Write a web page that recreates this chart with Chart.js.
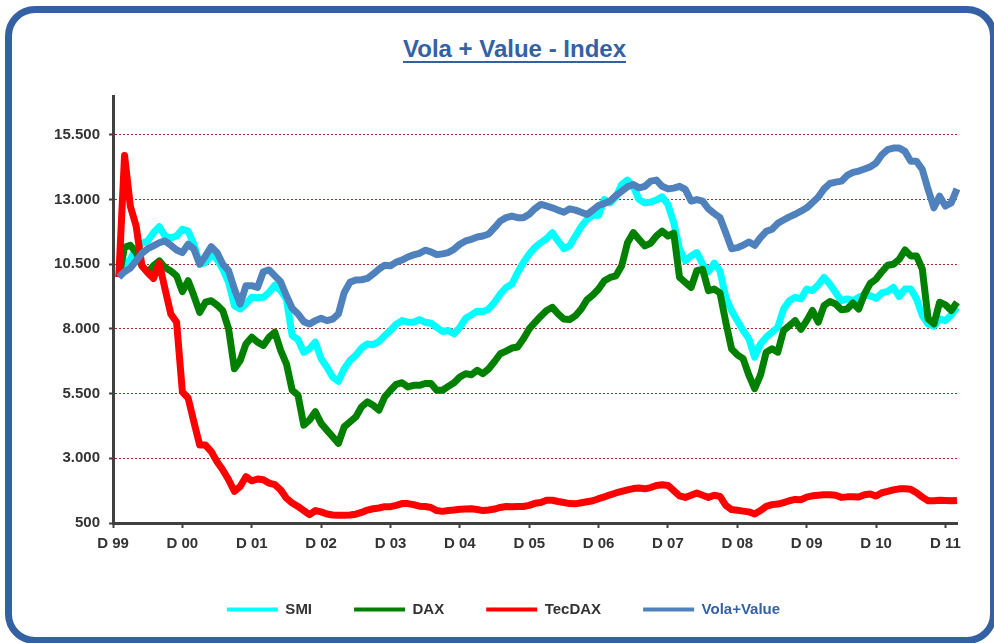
<!DOCTYPE html>
<html>
<head>
<meta charset="utf-8">
<script src="https://cdn.jsdelivr.net/npm/chart.js@4.4.1/dist/chart.umd.min.js"></script>
<style>
  html, body { margin: 0; padding: 0; background: #fff; }
  body { width: 994px; height: 643px; position: relative; overflow: hidden; }
  .frame {
    position: absolute; left: 5px; top: 6px; width: 992px; height: 638px;
    box-sizing: border-box; border: 7px solid #3461a4; border-radius: 30px;
  }
  .title {
    position: absolute; left: 514.5px; top: 37px; transform: translateX(-50%);
    white-space: nowrap; font: bold 24px "Liberation Sans", Arial, sans-serif;
    line-height: 24px; color: #3461a4;
    text-decoration: underline; text-decoration-thickness: 2px; text-underline-offset: 4px;
  }
  canvas { position: absolute; left: 0; top: 0; }
</style>
</head>
<body>
<div class="frame"></div>
<div class="title">Vola + Value - Index</div>
<canvas id="chart" width="994" height="643"></canvas>
<script>
// tick labels
const yearLabels = ['D 99', 'D 00', 'D 01', 'D 02', 'D 03', 'D 04', 'D 05', 'D 06', 'D 07', 'D 08', 'D 09', 'D 10', 'D 11'];
const yTicks = [500, 3000, 5500, 8000, 10500, 13000, 15500];

// monthly values, Jan 00 .. Feb 12 (month 0 = Dec 99 has no value)
const smi = [
  10000, 10440, 10690, 11100, 11310, 11400, 11720, 11950, 11590, 11520, 11590, 11850, 11780, 11270, 10500, 10560, 10880, 10690, 10310, 9800, 8900, 8770, 8960, 9220, 9200,
  9220, 9410, 9690, 9480, 9150, 7740, 7590, 7100, 7230, 7490, 6850, 6530, 6140, 5980, 6460, 6780, 6980, 7260, 7420, 7390, 7510, 7740, 7940, 8180,
  8320, 8260, 8260, 8360, 8260, 8220, 8060, 7900, 7940, 7810, 8060, 8410, 8540, 8680, 8670, 8770, 9030, 9350, 9600, 9730, 10180, 10570, 10890, 11150,
  11330, 11490, 11720, 11400, 11100, 11210, 11590, 11950, 12230, 12390, 12390, 13000, 12870, 13100, 13580, 13750, 13510, 13000, 12870, 12900, 12980, 13100, 12810, 12100,
  11100, 10630, 10820, 10950, 10500, 10210, 10540, 10240, 9220, 8710, 8320, 7940, 7620, 6910, 7420, 7680, 7870, 8060, 8770, 9090, 9220, 9160, 9540, 9480, 9700,
  9990, 9730, 9410, 9090, 9160, 9090, 9220, 9310, 9280, 9180, 9390, 9450, 9600, 9250, 9540, 9540, 9160, 8520, 8190, 8100, 8390, 8320, 8540, 8830
];
const dax = [
  10000, 11150, 11230, 10950, 10440, 10180, 10440, 10630, 10370, 10240, 10050, 9440, 9860, 9280, 8640, 9030, 9090, 8920, 8700, 8000, 6460, 6780, 7420, 7680, 7490,
  7360, 7680, 7870, 7170, 6650, 5630, 5440, 4280, 4480, 4800, 4350, 4090, 3830, 3580, 4220, 4410, 4600, 4990, 5180, 5050, 4860, 5370, 5630, 5860,
  5920, 5760, 5820, 5820, 5890, 5890, 5630, 5630, 5780, 5920, 6140, 6270, 6230, 6400, 6270, 6460, 6740, 7040, 7140, 7260, 7300, 7620, 8000, 8250,
  8490, 8710, 8830, 8580, 8380, 8360, 8510, 8770, 9130, 9310, 9540, 9860, 9990, 10050, 10440, 11330, 11720, 11460, 11210, 11310, 11590, 11780, 11590, 11700,
  9990, 9800, 9600, 10250, 10300, 9480, 9540, 9390, 8260, 7230, 7000, 6850, 6210, 5690, 6210, 7100, 7230, 7100, 7940, 8130, 8320, 7980, 8320, 8710, 8260,
  8900, 9060, 8960, 8740, 8770, 9000, 8770, 9350, 9760, 9920, 10210, 10460, 10500, 10690, 11050, 10820, 10820, 10310, 8390, 8190, 9030, 8930, 8710, 9030
];
const tecdax = [
  10000, 14700, 12740, 11980, 10440, 10180, 9950, 10550, 9540, 8580, 8260, 5570, 5330, 4400, 3510, 3510, 3260, 2870, 2550, 2170, 1720, 1910, 2290, 2130, 2200,
  2170, 2040, 1980, 1780, 1460, 1270, 1140, 980, 820, 980, 930, 850, 810, 800, 800, 810, 840, 910, 1000, 1050, 1080, 1130, 1130, 1180,
  1250, 1250, 1210, 1150, 1140, 1100, 980, 950, 980, 1000, 1030, 1040, 1050, 1020, 980, 1000, 1040, 1100, 1140, 1130, 1140, 1140, 1180, 1260,
  1290, 1380, 1380, 1330, 1290, 1250, 1240, 1280, 1320, 1360, 1440, 1510, 1590, 1660, 1720, 1780, 1830, 1850, 1820, 1870, 1950, 1980, 1950, 1750,
  1550, 1490, 1570, 1660, 1570, 1490, 1570, 1530, 1180, 1020, 990, 960, 930, 850, 980, 1140, 1210, 1230, 1290, 1360, 1410, 1400, 1500, 1550, 1570,
  1590, 1590, 1570, 1490, 1510, 1510, 1500, 1590, 1620, 1540, 1670, 1720, 1780, 1820, 1820, 1800, 1670, 1500, 1360, 1360, 1380, 1370, 1360, 1370
];
const volaValue = [
  10000, 10210, 10350, 10630, 10920, 11100, 11210, 11330, 11400, 11230, 11050, 10950, 11270, 11080, 10500, 10820, 11180, 10950, 10500, 10250, 9540, 8960, 9670, 9670, 9600,
  10210, 10280, 10050, 9820, 9280, 8800, 8580, 8280, 8190, 8320, 8410, 8320, 8380, 8580, 9410, 9800, 9890, 9900, 9950, 10120, 10310, 10460, 10440, 10580,
  10660, 10780, 10860, 10920, 11040, 10980, 10870, 10900, 10950, 11080, 11270, 11400, 11460, 11550, 11590, 11670, 11910, 12170, 12300, 12360, 12300, 12300, 12430, 12650,
  12810, 12750, 12680, 12590, 12510, 12640, 12590, 12510, 12420, 12590, 12770, 12850, 12940, 13150, 13320, 13490, 13580, 13450, 13510, 13710, 13750, 13510, 13410, 13440,
  13510, 13390, 12940, 13000, 12940, 12640, 12460, 12300, 11720, 11100, 11140, 11230, 11360, 11230, 11530, 11770, 11850, 12080, 12210, 12330, 12430, 12550, 12680, 12880, 13100,
  13410, 13620, 13670, 13710, 13930, 14050, 14100, 14180, 14260, 14410, 14730, 14930, 14990, 14990, 14860, 14480, 14480, 14160, 13390, 12680, 13130, 12750, 12870, 13410
];

// one category per month, Dec 99 .. Feb 12
const months = Array.from({ length: smi.length + 1 }, (_, i) => (i % 12 === 0 ? yearLabels[i / 12] : ''));

const axisColor = '#404040';
const textColor = '#333333';
Chart.defaults.font.family = '"Liberation Sans", Arial, sans-serif';

const line = (label, data, color, order) => ({
  label,
  data: [null, ...data],
  borderColor: color,
  backgroundColor: color,
  borderWidth: 7,
  borderJoinStyle: 'round',
  pointRadius: 0,
  tension: 0,
  order
});

new Chart(document.getElementById('chart'), {
  type: 'line',
  data: {
    labels: months,
    datasets: [
      line('SMI', smi, '#00ffff', 4),
      line('DAX', dax, '#008000', 3),
      line('TecDAX', tecdax, '#ff0000', 2),
      line('Vola+Value', volaValue, '#4f81bd', 1)
    ]
  },
  options: {
    responsive: false,
    animation: false,
    devicePixelRatio: 1,
    layout: { padding: { top: 96, left: 50, right: 37, bottom: 16 } },
    plugins: {
      title: { display: false },
      tooltip: { enabled: false },
      legend: {
        position: 'bottom',
        labels: {
          boxWidth: 51,
          boxHeight: 4,
          padding: 42,
          color: textColor,
          font: { size: 15, weight: 'bold' },
          generateLabels: (chart) =>
            Chart.defaults.plugins.legend.labels.generateLabels(chart)
              .sort((a, b) => a.datasetIndex - b.datasetIndex)
              .map((l) => ({ ...l, lineWidth: 0, fontColor: l.datasetIndex === 3 ? '#3461a4' : textColor }))
        }
      }
    },
    scales: {
      x: {
        afterFit: (s) => { s.height = 37; },
        afterBuildTicks: (s) => { s.ticks = s.ticks.filter((t) => t.value % 12 === 0); },
        ticks: { autoSkip: false, maxRotation: 0, padding: 7, color: textColor, font: { size: 15, weight: 'bold' } },
        grid: { drawOnChartArea: false, drawTicks: true, tickLength: 5, tickColor: axisColor, tickWidth: 2 },
        border: { color: axisColor, width: 3 }
      },
      y: {
        min: 500,
        max: 17000,
        afterFit: (s) => { s.width = 63; },
        afterBuildTicks: (s) => { s.ticks = yTicks.map((v) => ({ value: v })); },
        ticks: {
          padding: 9,
          color: textColor,
          font: { size: 15, weight: 'bold' },
          callback: (v) => String(v).replace(/\B(?=(\d{3})+(?!\d))/g, '.')
        },
        grid: { color: '#a52a2a', lineWidth: 1, drawTicks: true, tickLength: 4, tickColor: axisColor, tickWidth: 2, tickBorderDash: [] },
        border: { color: axisColor, width: 3, dash: [2, 2] }
      }
    }
  }
});
</script>
</body>
</html>
